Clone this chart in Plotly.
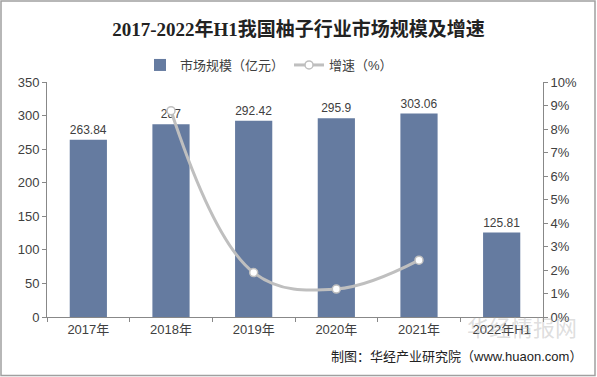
import plotly.graph_objects as go

categories = ["2017年", "2018年", "2019年", "2020年", "2021年", "2022年H1"]
market_size = [263.84, 287, 292.42, 295.9, 303.06, 125.81]
growth_cats = ["2018年", "2019年", "2020年", "2021年"]
growth_rate = [8.78, 1.89, 1.19, 2.42]
size_labels = ["263.84", "287", "292.42", "295.9", "303.06", "125.81"]

W, H = 597, 377
L, R, T, B = 47, 54, 82, 60
pw, ph = W - L - R, H - T - B

def px_x(x):
    return (x - L) / pw

def px_y(y):
    return (H - B - y) / ph

font_family = "Liberation Sans, Arial, Noto Sans CJK SC, sans-serif"

fig = go.Figure()
fig.add_trace(go.Bar(
    x=categories, y=market_size, name="市场规模（亿元）",
    marker=dict(color="#657BA0", line=dict(width=0)),
    width=0.45,
    text=size_labels, textposition="outside", cliponaxis=False,
    textfont=dict(size=12, color="#404040"),
))
fig.add_trace(go.Scatter(
    x=growth_cats, y=growth_rate, name="增速（%）", yaxis="y2",
    mode="lines+markers",
    line=dict(color="#BFBFBF", width=3, shape="spline", smoothing=1.1),
    marker=dict(color="white", size=8, line=dict(color="#BFBFBF", width=1.5)),
))

fig.update_layout(
    width=W, height=H,
    margin=dict(l=L, r=R, t=T, b=B, autoexpand=False),
    paper_bgcolor="white", plot_bgcolor="white",
    font=dict(family=font_family, size=12, color="#404040"),
    title=dict(
        text="<b>2017-2022年H1我国柚子行业市场规模及增速</b>",
        x=0.5, xanchor="center", y=1 - 29 / H, yanchor="middle",
        font=dict(family="Liberation Serif, Noto Sans CJK SC, serif", size=19, color="#222222"),
    ),
    legend=dict(
        orientation="h", x=px_x(140), xanchor="left", y=px_y(65), yanchor="middle",
        font=dict(size=13, color="#404040"), traceorder="normal",
        itemwidth=30,
    ),
    showlegend=True,
    bargap=0.55,
    xaxis=dict(
        type="category", showgrid=False, showline=True, linecolor="#888888",
        ticks="outside", ticklen=4, tickcolor="#888888", tickson="boundaries",
        tickfont=dict(size=13, color="#404040"),
    ),
    yaxis=dict(
        range=[0, 350], dtick=50, showgrid=False, showline=True, linecolor="#888888",
        ticks="outside", ticklen=4, tickcolor="#888888",
        tickfont=dict(size=13, color="#404040"), zeroline=False,
    ),
    yaxis2=dict(
        overlaying="y", side="right", range=[0, 10], dtick=1, ticksuffix="%",
        showgrid=False, showline=True, linecolor="#888888",
        ticks="outside", ticklen=4, tickcolor="#888888",
        tickfont=dict(size=13, color="#404040"), zeroline=False,
    ),
    shapes=[dict(
        type="rect", xref="paper", yref="paper",
        x0=px_x(1), x1=px_x(595), y0=px_y(375.5), y1=px_y(1),
        line=dict(color="#A0A0A0", width=1.5), fillcolor="rgba(0,0,0,0)",
    )],
    annotations=[
        dict(text="华经情报网", xref="paper", yref="paper", x=px_x(522), y=px_y(326),
             xanchor="center", yanchor="middle", showarrow=False,
             font=dict(size=22, color="rgba(170,170,170,0.4)", family="Noto Sans CJK SC")),
        dict(text="制图：华经产业研究院（www.huaon.com）", xref="paper", yref="paper",
             x=px_x(584), y=px_y(356), xanchor="right", yanchor="middle", showarrow=False,
             font=dict(size=13, color="#222222")),
    ],
)

fig.write_html("out.html", config={"displayModeBar": False},
               post_script="document.body.style.margin='0px';")
